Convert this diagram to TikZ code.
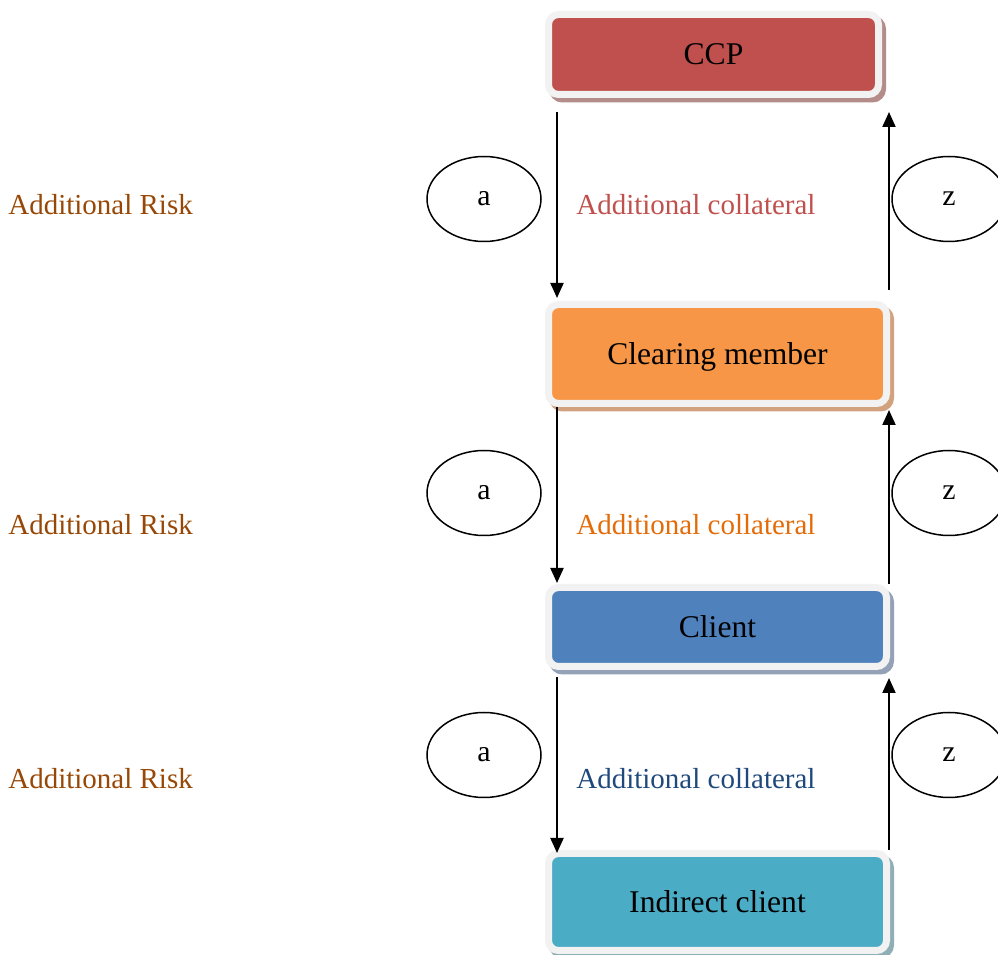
\documentclass[tikz,border=0pt]{standalone}
\usepackage{fontspec}
\setmainfont{Liberation Serif}
\usetikzlibrary{
  arrows.meta,
  shapes.geometric,
  shadows
}
\definecolor{framegray}{HTML}{F2F2F2}
\definecolor{ccpred}{HTML}{C0504D}
\definecolor{memberorange}{HTML}{F79646}
\definecolor{clientblue}{HTML}{4F81BD}
\definecolor{indirectaqua}{HTML}{4BACC6}
\definecolor{ccpshadow}{HTML}{B48C8A}
\definecolor{membershadow}{HTML}{D2A27E}
\definecolor{clientshadow}{HTML}{94A1B6}
\definecolor{indirectshadow}{HTML}{8FAEB6}
\definecolor{riskbrown}{HTML}{984806}
\definecolor{collred}{HTML}{C0504D}
\definecolor{collorange}{HTML}{E36C09}
\definecolor{collblue}{HTML}{1F497D}

\begin{document}
\begin{tikzpicture}[
  party/.style 2 args={
    rectangle,
    rounded corners=0.2cm,
    fill=#1,
    draw=framegray,
    line width=0.14cm,
    minimum width=6.76cm,
    text depth=0pt,
    font=\fontsize{18}{21}\selectfont,
    drop shadow={shadow xshift=0.08cm, shadow yshift=-0.09cm, fill=#2, draw=#2, opacity=1},
  },
  flow/.style={
    line width=0.04cm,
    -{Triangle[length=0.3cm,width=0.26cm]},
  },
  tag/.style={
    ellipse,
    draw,
    line width=0.03cm,
    minimum width=2.28cm,
    minimum height=1.7cm,
    inner sep=0pt,
    font=\fontsize{17}{20}\selectfont,
  },
  risk/.style={
    anchor=west,
    inner sep=0pt,
    text=riskbrown,
    font=\fontsize{16.5}{19}\selectfont,
  },
  collat/.style={
    anchor=west,
    inner sep=0pt,
    font=\fontsize{16.5}{19}\selectfont,
  },
]
\useasboundingbox (0,0) rectangle (19.96,19.10);

% the chain of parties
\node[party={ccpred}{ccpshadow}, minimum width=6.6cm, minimum height=1.6cm] (ccp) at (14.27,18.01) {CCP};
\node[party={memberorange}{membershadow}, minimum height=1.98cm] (member) at (14.35,12.02) {Clearing member};
\node[party={clientblue}{clientshadow}, minimum height=1.58cm] (client) at (14.35,6.56) {Client};
\node[party={indirectaqua}{indirectshadow}, minimum height=1.94cm] (indirect) at (14.35,1.06) {Indirect client};

% arrows down and up
\coordinate (down) at (11.14,0);
\coordinate (up) at (17.78,0);
\draw[flow, shorten <=0.28cm, shorten >=0.06cm] (ccp.south -| down) -- (member.north -| down);
\draw[flow, shorten <=0.22cm, shorten >=0.28cm] (member.north -| up) -- (ccp.south -| up);
\draw[flow, shorten <=0cm, shorten >=0.02cm] (member.south -| down) -- (client.north -| down);
\draw[flow, shorten <=0cm, shorten >=0.06cm] (client.north -| up) -- (member.south -| up);
\draw[flow, shorten <=0.14cm, shorten >=-0.06cm] (client.south -| down) -- (indirect.north -| down);
\draw[flow, shorten <=0cm, shorten >=0.16cm] (indirect.north -| up) -- (client.south -| up);

% ellipses
\node[tag] (a1) at (9.68,15.12) {a};
\node[tag] (a2) at (9.68,9.24) {a};
\node[tag] (a3) at (9.68,4.0) {a};
\node[tag] (z1) at (18.98,15.12) {z};
\node[tag] (z2) at (18.98,9.24) {z};
\node[tag] (z3) at (18.98,4.0) {z};

% labels
\node[risk] (risk1) at (0.16,15.0) {Additional Risk};
\node[risk] (risk2) at (0.16,8.6) {Additional Risk};
\node[risk] (risk3) at (0.16,3.52) {Additional Risk};
\node[collat, text=collred] (coll1) at (11.52,15.0) {Additional collateral};
\node[collat, text=collorange] (coll2) at (11.52,8.6) {Additional collateral};
\node[collat, text=collblue] (coll3) at (11.52,3.52) {Additional collateral};
\end{tikzpicture}
\end{document}
